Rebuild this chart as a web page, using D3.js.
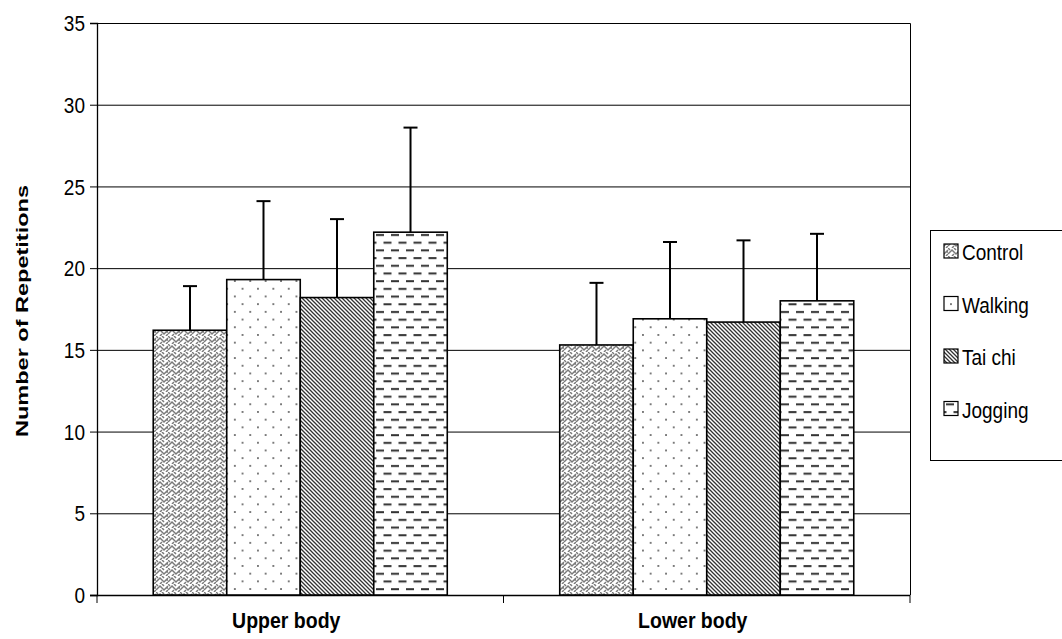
<!DOCTYPE html>
<html><head><meta charset="utf-8">
<script src="https://cdn.jsdelivr.net/npm/d3@7"></script>
<style>body{margin:0;background:#fff}svg{display:block}text{font-family:"Liberation Sans",Arial,sans-serif}</style>
</head><body><svg id="c" width="1062" height="639"></svg>
<script>
const categories = ["Upper body", "Lower body"];
const series = ["Control", "Walking", "Tai chi", "Jogging"];
const means = {
  "Control": [16.2, 15.3],
  "Walking": [19.3, 16.9],
  "Tai chi": [18.2, 16.7],
  "Jogging": [22.2, 18.0]
};
const sds = {
  "Control": [2.7, 3.8],
  "Walking": [4.8, 4.7],
  "Tai chi": [4.8, 5.0],
  "Jogging": [6.4, 4.1]
};
const yTicks = [0, 5, 10, 15, 20, 25, 30, 35];

const svg = d3.select("#c");
const L = 97, R = 910, T = 23, B = 595;
const y = d3.scaleLinear().domain([0, 35]).range([B, T]);
const x0 = d3.scaleBand().domain(categories).range([L, R]).padding(0);
const x1 = d3.scaleBand().domain(series).range([0, x0.bandwidth()]).paddingInner(0).paddingOuter(0.765);

// helper: text stretched vertically
function stext(parent, x, yy, str, size, sy, anchor, weight) {
  const g = parent.append("g").attr("transform", `translate(${x},${yy}) scale(1,${sy})`);
  g.append("text").attr("x", 0).attr("y", 0).attr("text-anchor", anchor || "start")
    .attr("dominant-baseline", "central").attr("font-size", size)
    .attr("font-weight", weight || "normal").attr("fill", "#000").text(str);
  return g;
}

// patterns
const defs = svg.append("defs");
let p = defs.append("pattern").attr("id", "p0").attr("patternUnits", "userSpaceOnUse").attr("width", 12).attr("height", 8);
p.append("rect").attr("width", 12).attr("height", 8).attr("fill", "#fff");
p.append("path").attr("d", "M0,6 L4,2 L8,6 L12,2 M-2,4 L0,2 M6,0 L8,2 M4,8 L6,6 M10,8 L12,6 M0,0 L2,2 M10,4 L12,4")
  .attr("stroke", "#7a7a7a").attr("stroke-width", 1.5).attr("fill", "none");
p = defs.append("pattern").attr("id", "p1").attr("patternUnits", "userSpaceOnUse").attr("width", 15.4).attr("height", 15.4);
p.append("rect").attr("width", 15.4).attr("height", 15.4).attr("fill", "#fff");
p.append("rect").attr("x", 3).attr("y", 3).attr("width", 1.7).attr("height", 1.7).attr("fill", "#555");
p.append("rect").attr("x", 10.7).attr("y", 10.7).attr("width", 1.7).attr("height", 1.7).attr("fill", "#555");
p = defs.append("pattern").attr("id", "p2").attr("patternUnits", "userSpaceOnUse").attr("width", 4).attr("height", 4);
p.append("rect").attr("width", 4).attr("height", 4).attr("fill", "#fff");
p.append("path").attr("d", "M-1,-1 L5,5 M-1,3 L1,5 M3,-1 L5,1").attr("stroke", "#333").attr("stroke-width", 1.3);
p = defs.append("pattern").attr("id", "p3").attr("patternUnits", "userSpaceOnUse").attr("width", 15).attr("height", 15.4);
p.append("rect").attr("width", 15).attr("height", 15.4).attr("fill", "#fff");
p.append("rect").attr("x", 1).attr("y", 3).attr("width", 8).attr("height", 2).attr("fill", "#333");
p.append("rect").attr("x", 8.5).attr("y", 10.7).attr("width", 8).attr("height", 2).attr("fill", "#333");
p.append("rect").attr("x", -6.5).attr("y", 10.7).attr("width", 8).attr("height", 2).attr("fill", "#333");
const fills = {"Control": "url(#p0)", "Walking": "url(#p1)", "Tai chi": "url(#p2)", "Jogging": "url(#p3)"};

// gridlines
svg.append("g").selectAll("line").data(yTicks.filter(t => t > 0 && t < 35)).join("line")
  .attr("x1", L).attr("x2", R).attr("y1", d => y(d) + 0.5).attr("y2", d => y(d) + 0.5)
  .attr("stroke", "#000").attr("stroke-width", 1);
svg.append("path").attr("d", `M${L},${T + 0.5} H${R + 0.5} V${B}`).attr("stroke", "#000").attr("fill", "none").attr("stroke-width", 1);

// y axis
const ya = svg.append("g").attr("transform", `translate(${L},0)`)
  .call(d3.axisLeft(y).tickValues(yTicks).tickSize(7).tickFormat(""));
ya.select(".domain").attr("stroke", "#000").attr("stroke-width", 1.3);
const yl = svg.append("g");
yTicks.forEach(t => stext(yl, L - 12, y(t), d3.format("d")(t), 19, 1.18, "end"));

// x axis
const xa = svg.append("g").attr("transform", `translate(0,${B})`);
xa.append("line").attr("x1", L - 7).attr("x2", R).attr("y1", 0.5).attr("y2", 0.5).attr("stroke", "#000").attr("stroke-width", 1.3);
const bounds = [L, x0(categories[1]), R];
xa.selectAll("line.t").data(bounds).join("line").attr("class", "t")
  .attr("x1", d => d).attr("x2", d => d).attr("y1", 0).attr("y2", 8).attr("stroke", "#000");
categories.forEach(c => stext(svg, x0(c) + x0.bandwidth() / 2 - 14, 620, c, 19.5, 1.15, "middle", "bold"));

// bars
const rows = [];
categories.forEach((c, i) => series.forEach(s => rows.push({c, s, v: means[s][i], e: sds[s][i]})));
svg.append("g").selectAll("rect").data(rows).join("rect")
  .attr("x", d => x0(d.c) + x1(d.s)).attr("width", x1.bandwidth())
  .attr("y", d => y(d.v)).attr("height", d => y(0) - y(d.v))
  .attr("fill", d => fills[d.s]).attr("stroke", "#000").attr("stroke-width", 1.6);
const eg = svg.append("g").attr("stroke", "#000").attr("stroke-width", 2);
const cx = d => x0(d.c) + x1(d.s) + x1.bandwidth() / 2;
eg.selectAll("line.v").data(rows).join("line").attr("class", "v")
  .attr("x1", cx).attr("x2", cx).attr("y1", d => y(d.v)).attr("y2", d => y(d.v + d.e));
eg.selectAll("line.c").data(rows).join("line").attr("class", "c")
  .attr("x1", d => cx(d) - 7).attr("x2", d => cx(d) + 7)
  .attr("y1", d => y(d.v + d.e)).attr("y2", d => y(d.v + d.e));

// y title
svg.append("text").attr("transform", `translate(22,${(T + B) / 2 + 2}) rotate(-90)`)
  .attr("text-anchor", "middle").attr("dominant-baseline", "central")
  .attr("font-size", 17).attr("font-weight", "bold")
  .attr("textLength", 252).attr("lengthAdjust", "spacingAndGlyphs").text("Number of Repetitions");

// legend
const lg = svg.append("g");
lg.append("rect").attr("x", 930.5).attr("y", 230.5).attr("width", 140).attr("height", 230).attr("fill", "#fff").attr("stroke", "#000");
series.forEach((s, i) => {
  const yy = 251 + i * 52.5;
  lg.append("rect").attr("x", 944).attr("y", yy - 7).attr("width", 14).attr("height", 14)
    .attr("fill", fills[s]).attr("stroke", "#000").attr("stroke-width", 1.2);
  stext(lg, 962, yy + 1, s, 19, 1.15, "start");
});
</script></body></html>
